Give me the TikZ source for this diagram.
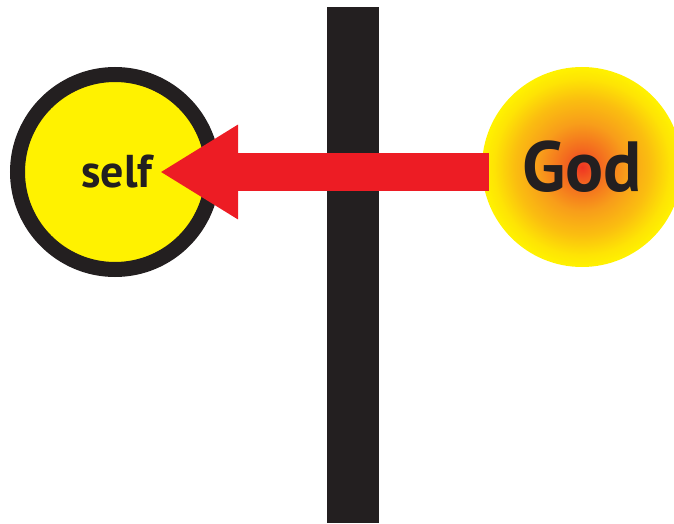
\documentclass[tikz,border=0pt]{standalone}
\usepackage{fontspec}
\setmainfont{PT Sans}
\usetikzlibrary{
  calc,
  positioning,
  arrows.meta}
\definecolor{crossblack}{HTML}{231F20}
\definecolor{selfyellow}{HTML}{FFF200}
\definecolor{arrowred}{HTML}{ED1C24}
\definecolor{glowmid}{HTML}{F7941D}
\pgfdeclareradialshading{godglow}{\pgfpoint{0bp}{0bp}}{%
  color(0bp)=(arrowred!80!glowmid);
  color(4bp)=(arrowred!40!glowmid);
  color(11bp)=(glowmid!90!selfyellow);
  color(17bp)=(glowmid!55!selfyellow);
  color(22bp)=(selfyellow!85!glowmid);
  color(25bp)=(selfyellow);
  color(50bp)=(selfyellow)}

\begin{document}
\begin{tikzpicture}[
  x=1pt, y=1pt,
  disc/.style={circle, inner sep=0pt},
  word/.style={text=crossblack, inner sep=0pt}
]%
  \useasboundingbox (0,0) rectangle (674,523);

  % Upright beam
  \fill[crossblack] (327,0) rectangle (379,516);

  % Circles
  \node[disc, minimum size=195pt, draw=crossblack, line width=15pt,
    fill=selfyellow] (self) at (115,351) {};
  \node[disc, minimum size=200pt, shade, shading=godglow] (god) at (582,356) {};

  % Labels
  \node[word, font=\bfseries\fontsize{46}{46}\selectfont] (selflabel)
    at ([xshift=2pt]self.center) {self};
  \node[word, font=\bfseries\fontsize{71}{71}\selectfont] (godlabel)
    at (god.center) {God};

  % Arrow from God to self
  \coordinate (tip) at ([xshift=45pt]self.center);
  \draw[arrowred, line width=38pt,
    -{Triangle[length=78pt 0 0, width=89pt 0 0]}]
    ([xshift=7pt]god.west |- self.center) -- (tip);
\end{tikzpicture}
\end{document}
